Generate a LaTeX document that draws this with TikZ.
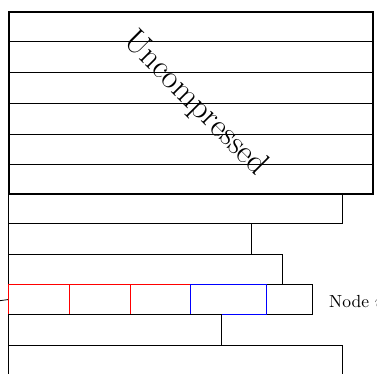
\documentclass[tikz,border=0pt]{standalone}
\usetikzlibrary{calc}
\begin{document}
\begin{tikzpicture}[x=1pt,y=-1pt,
  row/.style={draw, line width=0.8pt, rectangle, inner sep=0pt, anchor=north west, minimum height=30.33pt},
  thinline/.style={line width=0.8pt}]
\useasboundingbox (0,0) rectangle (377,373);
% stacked rows below the block
\node[row, minimum width=334pt] (r1) at (8,193) {};
\node[row, minimum width=243pt] (r2) at (8,223.3) {};
\node[row, minimum width=274pt] (r3) at (8,253.7) {};
\node[row, minimum width=46pt] (c5) at (266,284) {};
\node[row, draw=red, minimum width=61pt] (c1) at (8,284) {};
\node[row, draw=red, minimum width=61pt] (c2) at (69,284) {};
\node[row, draw=red, minimum width=60pt] (c3) at (130,284) {};
\node[row, draw=blue, minimum width=76pt] (c4) at (190,284) {};
\node[row, minimum width=213pt] (r5) at (8,314.3) {};
\node[row, minimum width=334pt, minimum height=45pt] (r6) at (8,344.7) {};
% uncompressed block
\node[row, line width=2.4pt, minimum width=364pt, minimum height=182pt] (top) at (8,11) {};
\foreach \k in {1,...,5}
  \draw[thinline] ($(top.north west)!\k/6!(top.south west)$) -- ($(top.north east)!\k/6!(top.south east)$);
\node[rotate=-45, inner sep=0pt, font=\fontsize{33}{38}\selectfont] (lbl) at (195,104) {Uncompressed};
% label
\node[anchor=base west, inner sep=0pt, scale=1.75] (lab) at ($(c5.east)+(16,8)$) {Node $u$};
% incoming edge
\coordinate (inc) at (-6,301.5);
\draw[thinline] (inc) -- (c1.west);
\end{tikzpicture}
\end{document}
